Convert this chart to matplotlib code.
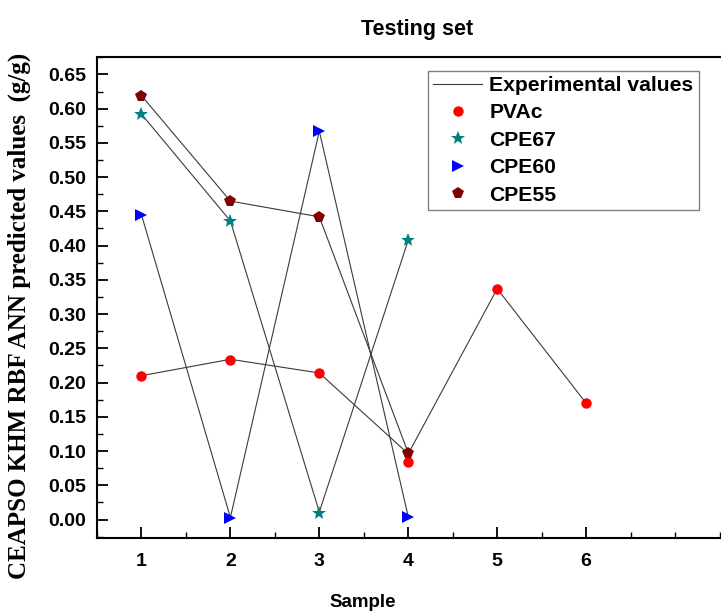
import numpy as np
import matplotlib.pyplot as plt
from matplotlib.ticker import MultipleLocator

plt.rcParams["font.family"] = ["Liberation Sans", "DejaVu Sans"]
plt.rcParams["font.weight"] = "bold"

# ---- data ----
SAMPLES_PVAC = [1, 2, 3, 4, 5, 6]
SAMPLES_CPE = [1, 2, 3, 4]

PVAC_PRED = [0.209, 0.233, 0.214, 0.084, 0.337, 0.170]
CPE67_PRED = [0.592, 0.436, 0.010, 0.408]
CPE60_PRED = [0.445, 0.002, 0.567, 0.003]
CPE55_PRED = [0.619, 0.465, 0.442, 0.097]

PVAC_EXP = [0.210, 0.234, 0.214, 0.096, 0.337, 0.170]
CPE67_EXP = [0.592, 0.436, 0.011, 0.408]
CPE60_EXP = [0.445, 0.003, 0.567, 0.004]
CPE55_EXP = [0.619, 0.465, 0.442, 0.097]

SERIES = [
    ("PVAc",  SAMPLES_PVAC, PVAC_PRED,  PVAC_EXP,  "o", "#FF0000", 7.5),
    ("CPE67", SAMPLES_CPE,  CPE67_PRED, CPE67_EXP, "*", "#008080", 10.5),
    ("CPE60", SAMPLES_CPE,  CPE60_PRED, CPE60_EXP, ">", "#0000FF", 8.5),
    ("CPE55", SAMPLES_CPE,  CPE55_PRED, CPE55_EXP, "p", "#800000", 8.5),
]

W, H = 721, 614
fig = plt.figure(figsize=(W / 100, H / 100), dpi=100)
left, bottom, top = 97 / W, 1 - 538 / H, 1 - 57.3 / H
right = 1.03
ax = fig.add_axes([left, bottom, right - left, top - bottom])
ax_w_px = (right - left) * W
ax_h_px = (top - bottom) * H

exp_handle = None
for name, xs, pred, exp, mk, col, ms in SERIES:
    (ln,) = ax.plot(xs, exp, color="#3a3a3a", lw=0.8, zorder=2)
    exp_handle = ln
    ax.plot(xs, pred, ls="none", marker=mk, color=col, markersize=ms,
            markeredgewidth=0, label=name, zorder=3)

handles, labels = ax.get_legend_handles_labels()
leg = ax.legend([exp_handle] + handles, ["Experimental values"] + labels,
                loc="upper left", bbox_to_anchor=(428 / W, 1 - 70.7 / H),
                bbox_transform=fig.transFigure, borderaxespad=0,
                fancybox=False, framealpha=1, edgecolor="#808080",
                fontsize=15.2, handlelength=2.3, labelspacing=0.4,
                borderpad=0.25, handletextpad=0.35)
leg.get_frame().set_linewidth(1.0)

ax.set_xlim(0.5, 7.76)
ax.set_ylim(-0.027, 0.675)
ax.xaxis.set_minor_locator(MultipleLocator(0.5))
ax.yaxis.set_minor_locator(MultipleLocator(0.025))
ax.set_xticks([1, 2, 3, 4, 5, 6])
ax.set_yticks(np.round(np.arange(0, 0.651, 0.05), 2))
ax.yaxis.set_major_formatter(plt.FormatStrFormatter("%.2f"))
ax.tick_params(which="major", direction="in", length=8, width=1.3,
               labelsize=14, right=False, top=False)
ax.tick_params(axis="y", which="major", pad=8)
ax.tick_params(axis="x", which="major", pad=11)
ax.tick_params(which="minor", direction="in", length=4.5, width=1.0,
               right=False, top=False)
for lab in ax.get_xticklabels() + ax.get_yticklabels():
    lab.set_fontweight("bold")
for s in ax.spines.values():
    s.set_linewidth(1.5)

ax.set_xlabel("Sample", fontsize=13.5, fontweight="bold")
ax.xaxis.set_label_coords((363 - 97) / ax_w_px, (538 - 594) / ax_h_px)
ax.set_ylabel("CEAPSO KHM RBF ANN predicted values  (g/g)",
              fontsize=18, fontweight="bold", family="Liberation Serif")
ax.yaxis.set_label_coords((31 - 97) / ax_w_px, (538 - 316) / ax_h_px)
fig.text(417 / W, 1 - 30 / H, "Testing set", ha="center", va="center",
         fontsize=15.5, fontweight="bold")

fig.savefig("out.png", dpi=100)
